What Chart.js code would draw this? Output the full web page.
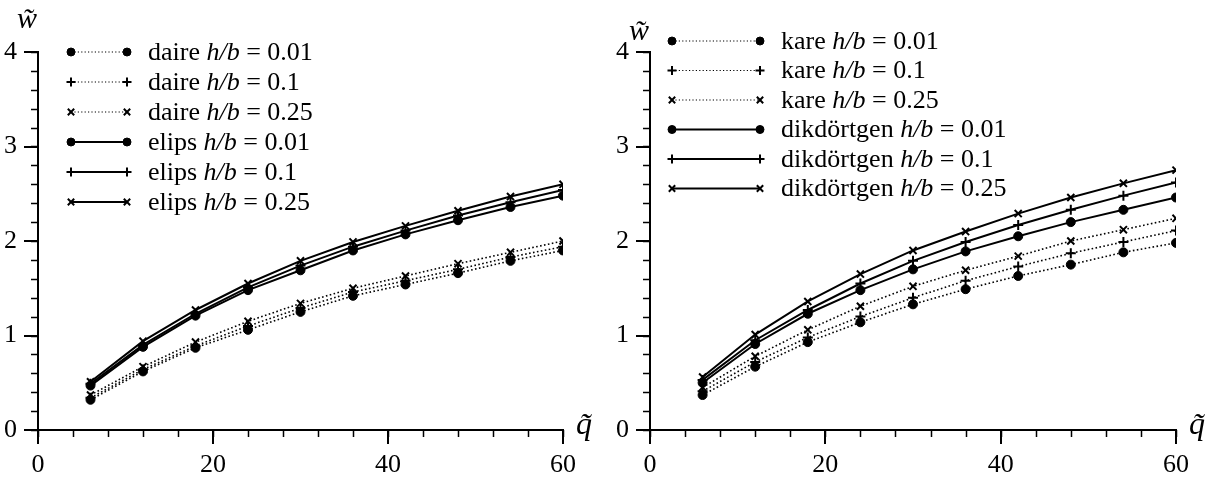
<!DOCTYPE html>
<html>
<head>
<meta charset="utf-8">
<script src="https://cdn.jsdelivr.net/npm/chart.js@4.4.1/dist/chart.umd.min.js"></script>
<style>
  html, body { margin: 0; padding: 0; background: #fff; }
  .panel { position: absolute; top: 0; width: 608px; height: 477px; }
</style>
</head>
<body>
<div class="panel" style="left:0"><canvas id="chart-left"></canvas></div>
<div class="panel" style="left:608px"><canvas id="chart-right"></canvas></div>
<script>
// Eksen değerleri
const qValues = [6, 12, 18, 24, 30, 36, 42, 48, 54, 60];
const ratios = ['0.01', '0.1', '0.25'];
const xTickValues = [0, 20, 40, 60];
const yTickValues = [0, 1, 2, 3, 4];
const xMinorStep = 4;
const yMinorStep = 0.2;

// Sol grafik: daire / elips
const daire001 = [0.32, 0.62, 0.87, 1.06, 1.25, 1.42, 1.54, 1.66, 1.79, 1.90];
const daire010 = [0.34, 0.64, 0.89, 1.10, 1.29, 1.46, 1.58, 1.70, 1.83, 1.94];
const daire025 = [0.37, 0.67, 0.93, 1.15, 1.34, 1.50, 1.63, 1.76, 1.88, 2.00];
const elips001 = [0.47, 0.88, 1.21, 1.48, 1.69, 1.90, 2.07, 2.22, 2.36, 2.48];
const elips010 = [0.49, 0.90, 1.23, 1.51, 1.74, 1.94, 2.11, 2.27, 2.41, 2.54];
const elips025 = [0.51, 0.94, 1.27, 1.55, 1.79, 1.99, 2.16, 2.32, 2.47, 2.60];

// Sağ grafik: kare / dikdörtgen
const kare001 = [0.37, 0.67, 0.93, 1.14, 1.33, 1.49, 1.63, 1.75, 1.88, 1.98];
const kare010 = [0.41, 0.72, 0.98, 1.20, 1.40, 1.58, 1.73, 1.87, 1.99, 2.11];
const kare025 = [0.45, 0.78, 1.06, 1.31, 1.52, 1.69, 1.84, 2.00, 2.12, 2.24];
const dik001 = [0.50, 0.91, 1.23, 1.48, 1.70, 1.89, 2.05, 2.20, 2.33, 2.46];
const dik010 = [0.53, 0.95, 1.27, 1.55, 1.79, 1.99, 2.17, 2.33, 2.48, 2.62];
const dik025 = [0.56, 1.01, 1.36, 1.65, 1.90, 2.10, 2.29, 2.46, 2.61, 2.75];

const SERIF = '"Liberation Serif", "DejaVu Serif", serif';
const pointStyles = ['circle', 'cross', 'crossRot'];

function series(name, idx, values, dotted) {
  const style = pointStyles[idx];
  return {
    label: name + ' h/b = ' + ratios[idx],
    shapeName: name,
    ratio: ratios[idx],
    data: qValues.map((q, i) => ({ x: q, y: values[i] })),
    borderColor: '#000',
    backgroundColor: '#000',
    borderWidth: dotted ? 1.6 : 2,
    borderDash: dotted ? [1.6, 2.4] : [],
    pointStyle: style,
    pointRadius: style === 'circle' ? 4.5 : 5,
    pointBorderWidth: style === 'circle' ? 1 : 2,
    pointBackgroundColor: '#000',
    pointBorderColor: '#000',
    tension: 0,
    fill: false
  };
}

// Küçük tikler, lejant ve eksen başlıkları
const decorPlugin = {
  id: 'decor',
  afterDraw(chart, args, opts) {
    const ctx = chart.ctx;
    const xs = chart.scales.x, ys = chart.scales.y;
    const area = chart.chartArea;
    ctx.save();
    ctx.strokeStyle = '#000';
    ctx.lineWidth = 1.5;
    ctx.beginPath();
    for (let v = xs.min; v <= xs.max + 1e-9; v += xMinorStep) {
      const px = Math.round(xs.getPixelForValue(v)) + 0.5;
      ctx.moveTo(px, area.bottom); ctx.lineTo(px, area.bottom + 7);
    }
    for (let v = ys.min; v <= ys.max + 1e-9; v += yMinorStep) {
      const py = Math.round(ys.getPixelForValue(v)) + 0.5;
      ctx.moveTo(area.left, py); ctx.lineTo(area.left - 7, py);
    }
    ctx.stroke();

    // Lejant
    const lg = opts.legend;
    chart.data.datasets.forEach((ds, i) => {
      const y = lg.y + i * lg.rowH;
      ctx.save();
      ctx.strokeStyle = '#000';
      ctx.lineWidth = ds.borderDash.length ? 1.2 : 2;
      ctx.setLineDash(ds.borderDash.length ? [1.2, 2.2] : []);
      ctx.beginPath(); ctx.moveTo(lg.x1, y); ctx.lineTo(lg.x2, y); ctx.stroke();
      ctx.restore();
      ctx.fillStyle = '#000';
      ctx.strokeStyle = '#000';
      ctx.lineWidth = ds.pointBorderWidth;
      [lg.x1, lg.x2].forEach(px => {
        Chart.helpers.drawPoint(ctx, {
          pointStyle: ds.pointStyle, radius: ds.pointRadius - 0.5,
          borderWidth: ds.pointBorderWidth, rotation: 0
        }, px, y);
      });
      const parts = [
        { t: ds.shapeName + ' ', it: false },
        { t: 'h/b', it: true },
        { t: ' = ' + ds.ratio, it: false }
      ];
      let tx = lg.tx;
      ctx.textBaseline = 'middle';
      ctx.textAlign = 'left';
      parts.forEach(p => {
        ctx.font = (p.it ? 'italic ' : '') + '26px ' + SERIF;
        ctx.fillText(p.t, tx, y + 1);
        tx += ctx.measureText(p.t).width;
      });
    });

    // Eksen başlıkları
    ctx.font = 'italic 30px ' + SERIF;
    ctx.textAlign = 'center';
    ctx.textBaseline = 'middle';
    ctx.fillText('w\u0303', opts.wPos[0], opts.wPos[1]);
    ctx.font = 'italic 32px ' + SERIF;
    ctx.fillText('q\u0303', opts.qPos[0], opts.qPos[1]);
    ctx.restore();
  }
};

function makeChart(id, datasets, layout) {
  return new Chart(document.getElementById(id), {
    type: 'line',
    data: { datasets },
    options: {
      responsive: true,
      maintainAspectRatio: false,
      animation: false,
      layout: { padding: { top: 52, right: layout.right, left: 0, bottom: 0 } },
      scales: {
        x: {
          type: 'linear', min: 0, max: 60,
          afterFit: (s) => { s.height = 47; },
          afterBuildTicks: (s) => { s.ticks = xTickValues.map(v => ({ value: v })); },
          border: { display: true, color: '#000', width: 2 },
          grid: { drawOnChartArea: false, drawTicks: true, tickLength: 14, color: '#000', lineWidth: 2 },
          ticks: { color: '#000', padding: 6, font: { family: SERIF, size: 26 } }
        },
        y: {
          type: 'linear', min: 0, max: 4,
          afterFit: (s) => { s.width = layout.left; },
          afterBuildTicks: (s) => { s.ticks = yTickValues.map(v => ({ value: v })); },
          border: { display: true, color: '#000', width: 2 },
          grid: { drawOnChartArea: false, drawTicks: true, tickLength: 14, color: '#000', lineWidth: 2 },
          ticks: { color: '#000', padding: 7, font: { family: SERIF, size: 26 } }
        }
      },
      plugins: {
        legend: { display: false },
        tooltip: { enabled: false },
        decor: layout.decor
      }
    },
    plugins: [decorPlugin]
  });
}

makeChart('chart-left', [
  series('daire', 0, daire001, true),
  series('daire', 1, daire010, true),
  series('daire', 2, daire025, true),
  series('elips', 0, elips001, false),
  series('elips', 1, elips010, false),
  series('elips', 2, elips025, false)
], {
  left: 38, right: 45,
  decor: { legend: { x1: 71, x2: 127, tx: 148, y: 52, rowH: 30 }, wPos: [27, 20], qPos: [584, 426] }
});

makeChart('chart-right', [
  series('kare', 0, kare001, true),
  series('kare', 1, kare010, true),
  series('kare', 2, kare025, true),
  series('dikdörtgen', 0, dik001, false),
  series('dikdörtgen', 1, dik010, false),
  series('dikdörtgen', 2, dik025, false)
], {
  left: 42, right: 40,
  decor: { legend: { x1: 64, x2: 152, tx: 173, y: 41, rowH: 29.5 }, wPos: [31, 32], qPos: [589, 426] }
});
</script>
</body>
</html>
